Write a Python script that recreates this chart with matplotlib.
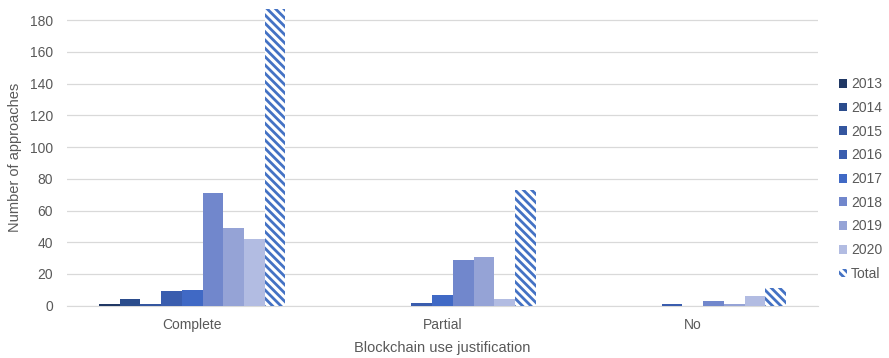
import matplotlib.pyplot as plt
import numpy as np

plt.rcParams['font.family'] = ['Liberation Sans', 'DejaVu Sans']
plt.rcParams['hatch.linewidth'] = 2.0

categories = ['Complete', 'Partial', 'No']
series = ['2013', '2014', '2015', '2016', '2017', '2018', '2019', '2020', 'Total']
values = {
    '2013': [1, 0, 0],
    '2014': [4, 0, 0],
    '2015': [1, 0, 0],
    '2016': [9, 2, 1],
    '2017': [10, 7, 0],
    '2018': [71, 29, 3],
    '2019': [49, 31, 1],
    '2020': [42, 4, 6],
    'Total': [187, 73, 11],
}
colors = ['#203864', '#2B4C8C', '#34569F', '#3A5DAE', '#4069C5',
          '#7187CC', '#95A3D6', '#B2BCE2', '#4472C4']

fig = plt.figure(figsize=(8.89, 3.58), dpi=100)
ax = fig.add_axes([67 / 889, 1 - 305.7 / 358, (818 - 67) / 889, (305.7 - 9) / 358])

x = np.arange(len(categories))
width = 0.744 / len(series)
handles = []
for i, name in enumerate(series):
    pos = x - 0.372 + width * (i + 0.5)
    if name == 'Total':
        b = ax.bar(pos, values[name], width, facecolor='white', edgecolor=colors[i],
                   hatch='\\\\\\\\', linewidth=0, label=name, zorder=3)
    else:
        b = ax.bar(pos, values[name], width, color=colors[i], label=name, zorder=3)
    handles.append(b)

ax.set_xlim(-0.5, 2.5)
ax.set_ylim(0, 187)
ax.set_yticks(range(0, 181, 20))
ax.set_xticks(x)
ax.set_xticklabels(categories)
ax.grid(axis='y', color='#D9D9D9', linewidth=0.9, zorder=0)
for s in ['top', 'right', 'left']:
    ax.spines[s].set_visible(False)
ax.spines['bottom'].set_color('#D9D9D9')
ax.tick_params(axis='both', length=0, labelsize=10, labelcolor='#595959', pad=10)
ax.tick_params(axis='x', pad=9)
ax.set_ylabel('Number of approaches', fontsize=10.5, color='#595959', labelpad=6)
ax.set_xlabel('Blockchain use justification', fontsize=10.5, color='#595959', labelpad=6)

leg = fig.legend(handles=handles, loc='center left', bbox_to_anchor=(826 / 889, 0.5),
                 frameon=False, fontsize=10, handlelength=0.6, handleheight=0.6,
                 handletextpad=0.3, labelspacing=0.7, labelcolor='#595959')

fig.savefig('out.png', dpi=100)
